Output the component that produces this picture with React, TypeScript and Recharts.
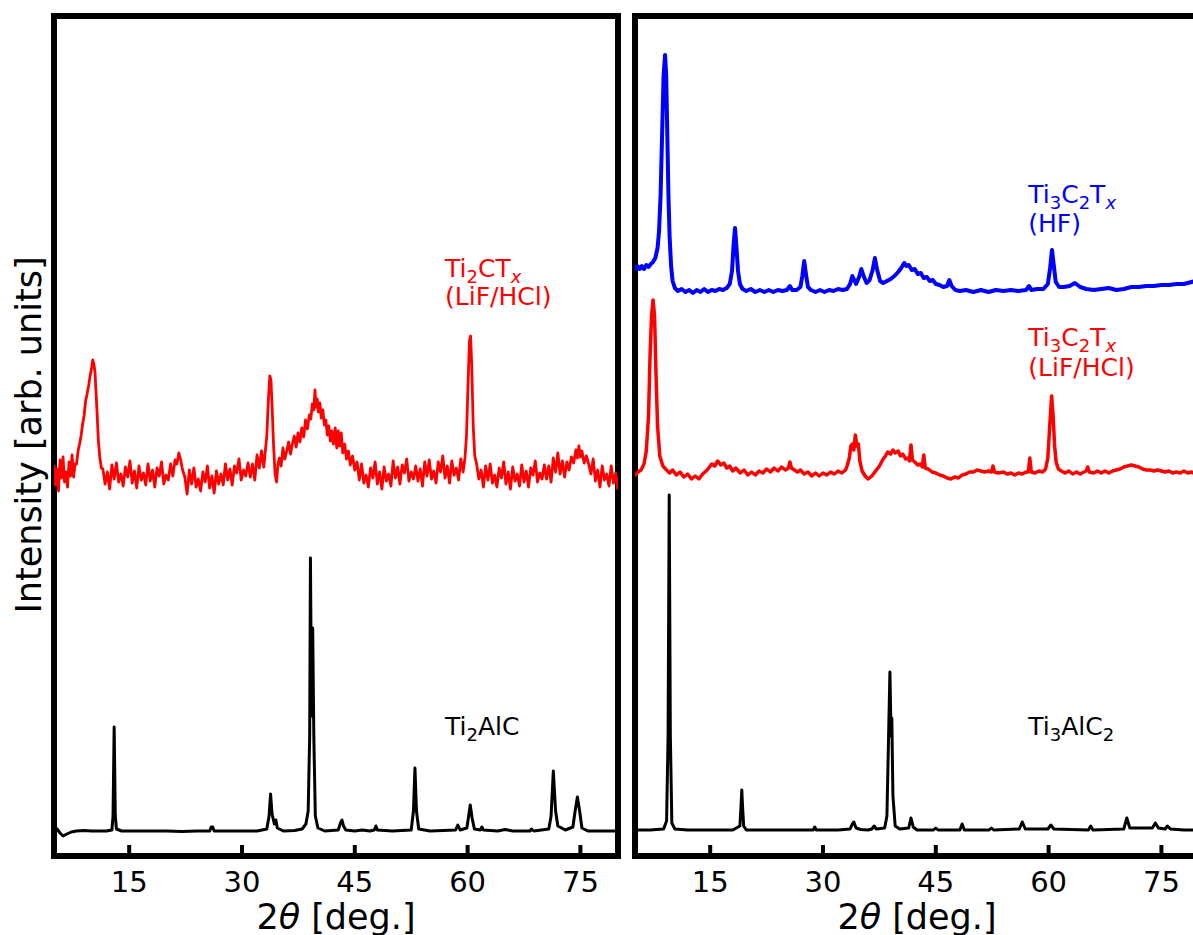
import React from 'react';
import { LineChart, Line, XAxis, YAxis, ReferenceArea, ReferenceDot } from 'recharts';

type Pt = [number, number];

// 2θ tick labels
const xTicks = [15, 30, 45, 60, 75];

// Ti2AlC (black, left panel)
const ti2alc: Pt[] = [
  [5.0, 28], [5.4, 27], [5.8, 23], [6.2, 20], [6.7, 22], [7.3, 24], [8, 25], [9, 25.5], [10, 25], [11, 25], [12, 25],
  [12.7, 26], [12.85, 40], [13.0, 129], [13.15, 40], [13.3, 27], [14, 25], [16, 25], [18, 25], [20, 25], [22, 24.5],
  [24, 25], [25.7, 25], [25.9, 29], [26.1, 29], [26.3, 25], [28, 25], [30, 25], [32, 25], [33.3, 27], [33.6, 40],
  [33.8, 62], [34.0, 42], [34.3, 32], [34.5, 36], [34.7, 28], [35.5, 25], [37, 25.5], [38, 27], [38.5, 32], [38.8, 45],
  [39.0, 120], [39.1, 298], [39.25, 140], [39.4, 228], [39.55, 120], [39.75, 40], [40.1, 28], [41, 25], [42.8, 26],
  [43.1, 33], [43.3, 36], [43.5, 30], [43.8, 26], [45, 25], [46, 26], [47, 25], [47.6, 26], [47.8, 30], [48.0, 26],
  [50, 25], [52.5, 26], [52.8, 45], [53.0, 88], [53.2, 45], [53.5, 27], [55, 25], [58.4, 26], [58.7, 31], [59.0, 26],
  [59.9, 28], [60.1, 38], [60.35, 51], [60.6, 38], [60.9, 27], [61.7, 26], [61.9, 29], [62.1, 26], [64, 25], [65, 26.5],
  [66, 25], [68.3, 25], [68.5, 27], [68.8, 25], [70.8, 27], [71.1, 40], [71.4, 85], [71.7, 45], [72.0, 30], [73, 26],
  [74.0, 29], [74.3, 45], [74.6, 59], [74.9, 45], [75.2, 28], [76, 25], [78, 25], [80, 25],
];

// Ti2CTx (LiF/HCl) (red, left panel)
const ti2ctx: Pt[] = [
  [5.0, 391], [5.2, 371], [5.4, 387], [5.6, 365], [5.8, 396], [6.0, 378], [6.2, 399], [6.4, 374], [6.6, 384], [6.8, 369],
  [7.0, 394], [7.2, 380], [7.4, 401], [7.6, 379], [7.8, 392], [8.0, 392], [8.2, 405], [8.4, 412], [8.6, 420], [8.8, 432],
  [9.0, 440], [9.2, 455], [9.4, 462], [9.6, 470], [9.8, 480], [10.0, 488], [10.15, 496], [10.3, 492], [10.45, 484],
  [10.6, 462], [10.75, 440], [10.9, 415], [11.1, 398], [11.3, 388], [11.5, 387], [11.8, 372], [12.1, 384], [12.4, 367],
  [12.7, 391], [13.0, 377], [13.3, 393], [13.6, 374], [13.9, 382], [14.2, 370], [14.5, 389], [14.8, 379], [15.1, 395],
  [15.4, 373], [15.7, 385], [16.0, 368], [16.3, 390], [16.6, 376], [16.9, 383], [17.2, 371], [17.5, 392], [17.8, 375],
  [18.1, 386], [18.4, 369], [18.7, 388], [19.0, 380], [19.3, 394], [19.6, 372], [19.9, 381], [20.2, 376], [20.5, 392],
  [20.8, 380], [21.1, 396], [21.35, 392], [21.6, 403], [21.85, 396], [22.1, 386], [22.4, 379], [22.7, 362], [23.0, 386],
  [23.3, 372], [23.6, 388], [23.9, 369], [24.2, 377], [24.5, 365], [24.8, 384], [25.1, 374], [25.4, 390], [25.7, 368],
  [26.0, 380], [26.3, 363], [26.6, 385], [26.9, 372], [27.2, 382], [27.5, 371], [27.8, 392], [28.1, 376], [28.4, 387],
  [28.7, 371], [29.0, 390], [29.3, 383], [29.6, 397], [29.9, 376], [30.2, 386], [30.5, 380], [30.8, 393], [31.1, 379],
  [31.4, 392], [31.7, 376], [32.0, 401], [32.3, 388], [32.6, 405], [32.9, 389], [33.1, 405], [33.3, 420], [33.5, 455],
  [33.7, 480], [33.85, 476], [34.0, 450], [34.2, 410], [34.4, 382], [34.6, 374], [34.8, 393], [35.0, 398], [35.2, 390],
  [35.45, 408], [35.7, 397], [35.95, 405], [36.2, 414], [36.45, 402], [36.7, 412], [36.95, 420], [37.2, 409], [37.45, 423],
  [37.7, 414], [37.95, 428], [38.2, 419], [38.45, 436], [38.7, 427], [38.95, 441], [39.15, 437], [39.35, 452], [39.55, 446],
  [39.7, 466], [39.85, 449], [40.0, 457], [40.15, 444], [40.35, 453], [40.55, 438], [40.75, 446], [40.95, 431],
  [41.15, 436], [41.35, 421], [41.55, 430], [41.75, 415], [41.95, 425], [42.15, 412], [42.4, 428], [42.6, 408],
  [42.8, 425], [43.0, 410], [43.2, 423], [43.4, 403], [43.65, 412], [43.9, 397], [44.15, 405], [44.4, 391], [44.7, 400],
  [45.0, 386], [45.3, 394], [45.6, 376], [45.9, 392], [46.2, 373], [46.5, 381], [46.8, 369], [47.1, 388], [47.4, 378],
  [47.7, 394], [48.0, 372], [48.3, 384], [48.6, 367], [48.9, 389], [49.2, 375], [49.5, 382], [49.8, 370], [50.1, 395],
  [50.4, 378], [50.7, 389], [51.0, 372], [51.3, 391], [51.6, 383], [51.9, 397], [52.2, 375], [52.5, 384], [52.8, 377],
  [53.1, 390], [53.4, 375], [53.7, 387], [54.0, 370], [54.3, 394], [54.6, 380], [54.9, 396], [55.2, 377], [55.5, 385],
  [55.8, 373], [56.1, 394], [56.4, 384], [56.7, 400], [57.0, 378], [57.3, 390], [57.6, 373], [57.9, 395], [58.2, 381],
  [58.5, 388], [58.8, 376], [59.1, 397], [59.4, 384], [59.65, 398], [59.85, 420], [60.05, 470], [60.25, 515], [60.4, 520],
  [60.55, 490], [60.75, 430], [60.95, 400], [61.2, 392], [61.5, 377], [61.8, 386], [62.1, 369], [62.4, 390], [62.7, 376],
  [63.0, 392], [63.3, 373], [63.6, 381], [63.9, 369], [64.2, 388], [64.5, 378], [64.8, 394], [65.1, 372], [65.4, 384],
  [65.7, 367], [66.0, 389], [66.3, 375], [66.6, 382], [66.9, 370], [67.2, 391], [67.5, 374], [67.8, 385], [68.1, 369],
  [68.4, 388], [68.7, 381], [69.0, 395], [69.3, 374], [69.6, 383], [69.9, 377], [70.2, 391], [70.5, 377], [70.8, 390],
  [71.1, 374], [71.4, 398], [71.7, 384], [72.0, 403], [72.3, 382], [72.6, 395], [72.9, 379], [73.2, 394], [73.5, 386],
  [73.8, 399], [74.1, 393], [74.4, 406], [74.6, 398], [74.8, 410], [75.0, 399], [75.2, 405], [75.5, 393], [75.8, 400],
  [76.1, 392], [76.4, 382], [76.7, 397], [77.0, 375], [77.3, 386], [77.6, 369], [77.9, 390], [78.2, 376], [78.5, 382],
  [78.8, 370], [79.1, 390], [79.4, 373], [79.7, 383], [80.0, 366],
];

// Ti3AlC2 (black, right panel)
const ti3alc2: Pt[] = [
  [5, 26], [7, 26], [8.8, 27], [9.2, 35], [9.4, 120], [9.55, 361], [9.7, 120], [9.9, 33], [10.3, 27], [12, 26], [15, 26],
  [18, 26], [18.95, 30], [19.1, 50], [19.2, 66], [19.3, 50], [19.45, 30], [19.8, 26], [24, 26], [28.7, 26], [28.9, 29],
  [29.1, 26], [32, 26], [33.6, 27], [33.9, 32], [34.1, 34], [34.4, 28], [35, 26.5], [36, 26], [36.5, 27], [36.8, 30],
  [37.1, 27], [38.2, 28], [38.5, 40], [38.75, 130], [38.9, 184], [39.05, 120], [39.15, 138], [39.3, 60], [39.6, 30],
  [40.2, 27], [41.4, 28], [41.7, 38], [42.0, 29], [42.5, 26], [44.7, 26], [45.0, 28], [45.3, 26], [48.2, 26], [48.5, 32],
  [48.8, 26], [52.1, 26], [52.4, 28], [52.7, 26], [56.1, 27], [56.5, 34], [56.9, 27], [59.9, 27], [60.3, 31], [60.7, 27],
  [65.3, 26], [65.6, 30], [65.9, 26], [70.0, 27], [70.4, 38], [70.8, 28], [73.8, 28], [74.2, 33], [74.6, 28], [75.5, 27],
  [75.8, 30], [76.2, 27], [78, 26], [80, 26],
];

// Ti3C2Tx (LiF/HCl) (red, right panel)
const ti3c2txLiF: Pt[] = [
  [5.0, 380], [5.4, 384], [5.8, 386], [6.2, 392], [6.5, 405], [6.8, 440], [7.0, 500], [7.2, 540], [7.4, 556], [7.6, 540],
  [7.8, 480], [8.0, 430], [8.3, 400], [8.7, 390], [9.2, 386], [9.6, 383], [10, 386], [10.5, 381], [11, 384], [11.5, 379],
  [12, 382], [12.5, 377], [13, 380], [13.5, 377], [14, 382], [14.6, 386], [15.2, 392], [15.6, 390], [16.0, 395],
  [16.4, 391], [16.8, 393], [17.2, 388], [17.6, 390], [18.0, 385], [18.4, 388], [19.0, 383], [19.5, 386], [20.0, 381],
  [20.5, 384], [21.0, 381], [21.5, 385], [22.0, 383], [22.5, 387], [23.0, 384], [23.5, 388], [24.0, 385], [24.5, 389],
  [25.0, 386], [25.4, 388], [25.6, 394], [25.8, 388], [26.2, 386], [26.6, 384], [27.0, 386], [27.5, 382], [28.0, 384],
  [28.5, 380], [29.0, 383], [29.5, 380], [30.0, 383], [30.5, 381], [31.0, 384], [31.5, 382], [32.0, 385], [32.5, 383],
  [33.0, 386], [33.2, 390], [33.5, 398], [33.7, 410], [33.9, 412], [34.1, 406], [34.3, 421], [34.5, 410], [34.7, 412],
  [34.9, 395], [35.2, 385], [35.6, 380], [36.0, 377], [36.5, 380], [37.0, 385], [37.5, 390], [38.0, 397], [38.3, 400],
  [38.6, 404], [39.0, 402], [39.3, 406], [39.6, 403], [40.0, 405], [40.3, 400], [40.6, 402], [41.0, 397], [41.3, 398],
  [41.5, 395], [41.7, 411], [41.9, 396], [42.2, 394], [42.6, 391], [43.0, 392], [43.2, 389], [43.4, 401], [43.6, 388],
  [44.0, 387], [44.5, 384], [45.0, 383], [45.5, 381], [46.0, 380], [46.5, 378], [47.0, 377], [47.5, 379], [48.0, 378],
  [48.5, 381], [49.0, 382], [49.5, 384], [50.0, 384], [50.5, 386], [51.0, 385], [51.5, 384], [52.0, 385], [52.4, 384],
  [52.6, 390], [52.8, 384], [53.3, 383], [54.0, 384], [54.5, 382], [55.0, 383], [55.5, 381], [56.0, 383], [56.5, 382],
  [57.0, 384], [57.3, 384], [57.5, 398], [57.7, 384], [58.2, 383], [58.7, 385], [59.2, 384], [59.6, 387], [59.9, 398],
  [60.15, 430], [60.4, 460], [60.6, 440], [60.8, 410], [61.0, 394], [61.3, 387], [61.7, 385], [62.2, 383], [62.7, 385],
  [63.2, 382], [63.7, 384], [64.2, 382], [64.7, 384], [65.0, 385], [65.2, 389], [65.4, 384], [66.0, 383], [66.5, 385],
  [67.0, 383], [67.5, 385], [68.0, 383], [68.5, 385], [69.0, 386], [69.5, 387], [70.0, 389], [70.5, 390], [71.0, 391],
  [71.5, 390], [72.0, 389], [72.5, 387], [73.0, 386], [73.5, 386], [74.0, 385], [74.5, 386], [75.0, 385], [75.5, 384],
  [76.0, 385], [76.5, 383], [77.0, 384], [77.5, 383], [78.0, 385], [78.5, 383], [79.0, 384], [79.5, 382], [80.0, 384],
];

// Ti3C2Tx (HF) (blue, right panel)
const ti3c2txHF: Pt[] = [
  [5.0, 586], [5.3, 590], [5.6, 587], [5.9, 590], [6.2, 587], [6.5, 591], [6.8, 589], [7.1, 592], [7.4, 594], [7.7, 598],
  [8.0, 608], [8.2, 625], [8.4, 660], [8.6, 720], [8.8, 780], [9.0, 801], [9.15, 780], [9.3, 720], [9.45, 660],
  [9.6, 620], [9.8, 590], [10.0, 575], [10.3, 568], [10.7, 565], [11.2, 567], [11.7, 564], [12.2, 566], [12.7, 563],
  [13.2, 566], [13.7, 564], [14.2, 567], [14.7, 564], [15.2, 566], [15.7, 565], [16.2, 567], [16.7, 566], [17.2, 568],
  [17.6, 572], [17.9, 585], [18.1, 610], [18.3, 628], [18.5, 608], [18.7, 585], [18.95, 572], [19.3, 567], [19.8, 565],
  [20.4, 567], [21, 564], [21.6, 566], [22.2, 564], [22.8, 566], [23.4, 564], [24, 566], [24.6, 565], [25.2, 566],
  [25.6, 570], [25.9, 566], [26.5, 566], [27.0, 569], [27.25, 580], [27.5, 595], [27.75, 581], [28.0, 569], [28.4, 566],
  [29, 564], [29.6, 566], [30.2, 564], [30.8, 566], [31.4, 565], [32, 567], [32.6, 566], [33.2, 567], [33.6, 572],
  [33.9, 580], [34.15, 576], [34.4, 572], [34.8, 579], [35.1, 587], [35.4, 580], [35.8, 573], [36.2, 576], [36.6, 586],
  [36.9, 598], [37.2, 586], [37.6, 575], [38.0, 573], [38.5, 575], [39.0, 577], [39.5, 580], [40.0, 584], [40.4, 588],
  [40.8, 593], [41.1, 590], [41.4, 591], [41.8, 586], [42.2, 587], [42.6, 582], [43.0, 583], [43.4, 578], [43.8, 579],
  [44.2, 575], [44.6, 576], [45.0, 572], [45.5, 571], [46.0, 569], [46.5, 570], [46.8, 576], [47.1, 570], [47.6, 566],
  [48.2, 565], [49, 566], [50, 564], [51, 566], [52, 564], [53, 566], [54, 565], [55, 566], [56, 565], [57.0, 566],
  [57.4, 570], [57.7, 566], [58.5, 567], [59.3, 567], [59.9, 572], [60.2, 588], [60.45, 606], [60.7, 590], [60.95, 574],
  [61.4, 569], [62, 569], [62.8, 570], [63.5, 573], [64.2, 569], [65, 567], [66, 566], [67, 567], [68, 568], [69, 566],
  [70, 567], [71, 569], [72, 569], [73, 570], [74, 570], [75, 571], [76, 571], [77, 572], [78, 572], [79, 574], [80, 576],
];

// annotation texts (segments: text, subscript?, italic?)
type Seg = [string, boolean?, boolean?];
const lblTi2CTx: Seg[] = [['Ti'], ['2', true], ['CT'], ['x', true, true]];
const lblLiF: Seg[] = [['(LiF/HCl)']];
const lblTi2AlC: Seg[] = [['Ti'], ['2', true], ['AlC']];
const lblTi3C2Tx: Seg[] = [['Ti'], ['3', true], ['C'], ['2', true], ['T'], ['x', true, true]];
const lblHF: Seg[] = [['(HF)']];
const lblTi3AlC2: Seg[] = [['Ti'], ['3', true], ['AlC'], ['2', true]];

const FONT = '"DejaVu Sans", Verdana, sans-serif';
const toRows = (pts: Pt[]) => pts.map(([x, y]) => ({ x, y }));

const renderSegs = (segs: Seg[]) => {
  const out: React.ReactNode[] = [];
  let shifted = false;
  segs.forEach(([t, sub, it], i) => {
    let dy = 0;
    if (sub && !shifted) { dy = 6; shifted = true; }
    else if (!sub && shifted) { dy = -6; shifted = false; }
    out.push(
      <tspan key={i} dy={dy} fontSize={sub ? 18 : 25} fontStyle={it ? 'italic' : 'normal'}>{t}</tspan>
    );
  });
  return out;
};

const annotShape = (segs: Seg[], color: string) => (p: any) => (
  <text x={p.cx} y={p.cy} fill={color} fontFamily={FONT} fontSize={25} textAnchor="start">
    {renderSegs(segs)}
  </text>
);

const XLabel = (p: any) => {
  const vb = p.viewBox || { x: 0, y: 0, width: 0, height: 0 };
  return (
    <text x={vb.x + vb.width / 2} y={vb.y + 73} textAnchor="middle" fontFamily={FONT} fontSize={35} fill="#000">
      2<tspan fontStyle="italic">θ</tspan> [deg.]
    </text>
  );
};

type Ann = { x: number; y: number; segs: Seg[]; color: string };

const Panel = ({ series, annots }: { series: { pts: Pt[]; color: string; w: number }[]; annots: Ann[] }) => (
  <LineChart width={640} height={935} margin={{ top: 16, right: 22, bottom: 0, left: 54 }}>
    <XAxis
      dataKey="x"
      type="number"
      domain={[5, 80]}
      ticks={xTicks}
      allowDataOverflow
      axisLine={false}
      tickSize={-11}
      tickMargin={26}
      tickLine={{ stroke: '#000', strokeWidth: 4 }}
      tick={{ fill: '#000', fontSize: 29, fontFamily: FONT }}
      height={79}
      label={XLabel}
    />
    <YAxis hide type="number" domain={[0, 840]} allowDataOverflow />
    {series.map((s, i) => (
      <Line
        key={i}
        data={toRows(s.pts)}
        dataKey="y"
        type="linear"
        stroke={s.color}
        strokeWidth={s.w}
        strokeLinejoin="round"
        dot={false}
        activeDot={false}
        isAnimationActive={false}
      />
    ))}
    <ReferenceArea x1={5} x2={80} y1={0} y2={840} fill="none" fillOpacity={0} stroke="#000" strokeWidth={6} ifOverflow="visible" />
    {annots.map((a, i) => (
      <ReferenceDot key={'a' + i} x={a.x} y={a.y} r={1} ifOverflow="visible" shape={annotShape(a.segs, a.color)} />
    ))}
  </LineChart>
);

export default function App() {
  return (
    <div style={{ position: 'fixed', left: 0, top: 0, width: 1193, height: 935, overflow: 'hidden', background: '#fff' }}>
      <div style={{ position: 'absolute', left: 0, top: 0 }}>
        <Panel
          series={[
            { pts: ti2alc, color: '#000', w: 3 },
            { pts: ti2ctx, color: '#ff0000', w: 2.8 },
          ]}
          annots={[
            { x: 57.0, y: 579, segs: lblTi2CTx, color: '#ff0000' },
            { x: 57.0, y: 551, segs: lblLiF, color: '#ff0000' },
            { x: 57.0, y: 121, segs: lblTi2AlC, color: '#000' },
          ]}
        />
      </div>
      <div style={{ position: 'absolute', left: 581, top: 0 }}>
        <Panel
          series={[
            { pts: ti3alc2, color: '#000', w: 3 },
            { pts: ti3c2txLiF, color: '#ff0000', w: 3.5 },
            { pts: ti3c2txHF, color: '#0000ff', w: 4 },
          ]}
          annots={[
            { x: 57.3, y: 653, segs: lblTi3C2Tx, color: '#0000ff' },
            { x: 57.3, y: 624, segs: lblHF, color: '#0000ff' },
            { x: 57.3, y: 510, segs: lblTi3C2Tx, color: '#ff0000' },
            { x: 57.3, y: 480, segs: lblLiF, color: '#ff0000' },
            { x: 57.3, y: 121, segs: lblTi3AlC2, color: '#000' },
          ]}
        />
      </div>
      <svg width={60} height={935} style={{ position: 'absolute', left: 0, top: 0 }}>
        <text
          x={0}
          y={0}
          transform="translate(29, 435) rotate(-90)"
          textAnchor="middle"
          dominantBaseline="central"
          fontFamily={FONT}
          fontSize={35}
          fill="#000"
        >
          Intensity [arb. units]
        </text>
      </svg>
    </div>
  );
}
